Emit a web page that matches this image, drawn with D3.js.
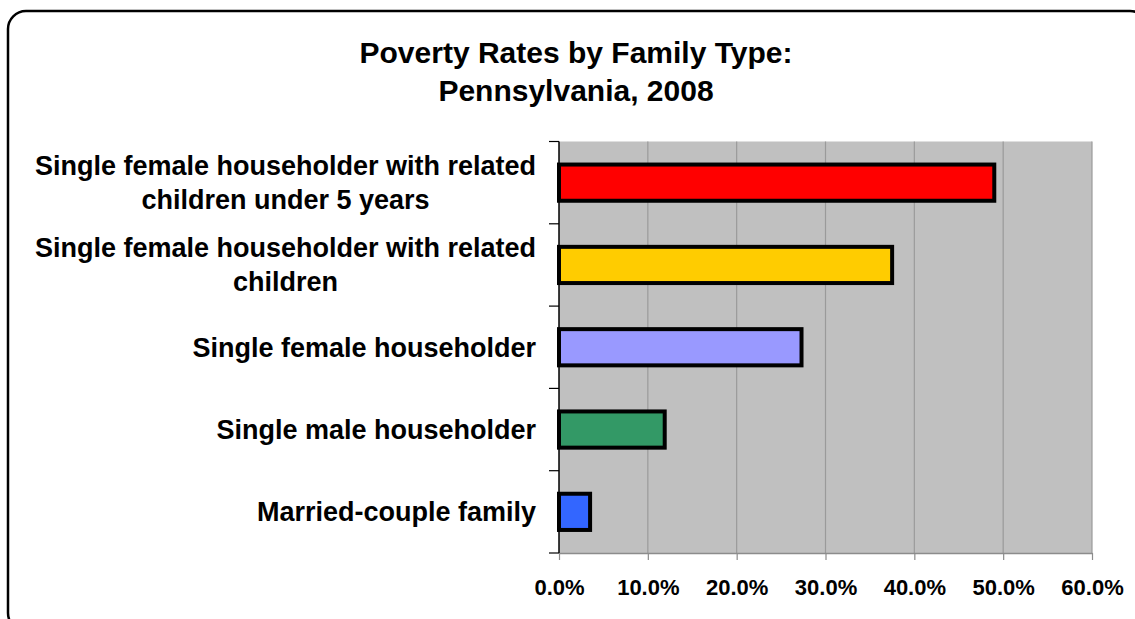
<!DOCTYPE html>
<html>
<head>
<meta charset="utf-8">
<script src="https://cdn.jsdelivr.net/npm/d3@7"></script>
<style>
  html, body { margin: 0; padding: 0; background: #fff; }
  svg { display: block; font-family: "Liberation Sans", Arial, sans-serif; }
</style>
</head>
<body>
<svg id="chart" width="1135" height="619"></svg>
<script>
// Family types, top to bottom, with their wrapped label lines
const categories = [
  "Single female householder with related children under 5 years",
  "Single female householder with related children",
  "Single female householder",
  "Single male householder",
  "Married-couple family"
];
const labelLines = [
  ["Single female householder with related", "children under 5 years"],
  ["Single female householder with related", "children"],
  ["Single female householder"],
  ["Single male householder"],
  ["Married-couple family"]
];
// Poverty rate (%)
const rates = [49.0, 37.5, 27.3, 11.9, 3.5];
const barColors = ["#FF0000", "#FFCC00", "#9999FF", "#339966", "#3366FF"];
const xTicks = [0, 10, 20, 30, 40, 50, 60];
const titleLines = ["Poverty Rates by Family Type:", "Pennsylvania, 2008"];

const svg = d3.select("#chart");

// Rounded outer frame
svg.append("rect")
  .attr("x", 8).attr("y", 11)
  .attr("width", 1140).attr("height", 620)
  .attr("rx", 18).attr("ry", 18)
  .attr("fill", "#fff")
  .attr("stroke", "#000")
  .attr("stroke-width", 2.5);

// Title
svg.append("text")
  .attr("text-anchor", "middle")
  .attr("font-weight", "bold")
  .attr("font-size", 30)
  .selectAll("tspan")
  .data(titleLines)
  .join("tspan")
  .attr("x", 576)
  .attr("y", (d, i) => 63 + i * 38)
  .text(d => d);

const plot = { left: 559, right: 1092, top: 141.5, bottom: 553 };

const x = d3.scaleLinear()
  .domain([0, 60])
  .range([plot.left, plot.right]);

const y = d3.scaleBand()
  .domain(categories)
  .range([plot.top, plot.bottom])
  .paddingInner(0.56)
  .paddingOuter(0.28);

// Plot background
svg.append("rect")
  .attr("x", plot.left).attr("y", plot.top)
  .attr("width", plot.right - plot.left)
  .attr("height", plot.bottom - plot.top)
  .attr("fill", "#C0C0C0");

// Vertical gridlines
svg.append("g")
  .selectAll("line")
  .data(xTicks.slice(1))
  .join("line")
  .attr("x1", d => x(d)).attr("x2", d => x(d))
  .attr("y1", plot.top).attr("y2", plot.bottom)
  .attr("stroke", "#9a9a9a")
  .attr("stroke-width", 1.2);

// Bars
svg.append("g")
  .selectAll("rect")
  .data(rates)
  .join("rect")
  .attr("x", x(0))
  .attr("y", (d, i) => y(categories[i]))
  .attr("width", d => x(d) - x(0))
  .attr("height", y.bandwidth())
  .attr("fill", (d, i) => barColors[i])
  .attr("stroke", "#000")
  .attr("stroke-width", 4);

// Bottom axis
const xAxis = d3.axisBottom(x)
  .tickValues(xTicks)
  .tickFormat(d => d.toFixed(1) + "%")
  .tickSizeInner(7)
  .tickSizeOuter(0)
  .tickPadding(19);

const gx = svg.append("g")
  .attr("transform", `translate(0,${plot.bottom})`)
  .call(xAxis);
gx.select(".domain").attr("stroke", "#8c8c8c").attr("stroke-width", 1.5);
gx.selectAll(".tick line").attr("stroke", "#8c8c8c").attr("stroke-width", 1.2);
gx.selectAll(".tick text")
  .attr("font-family", "Liberation Sans, Arial, sans-serif")
  .attr("font-weight", "bold")
  .attr("font-size", 22)
  .attr("fill", "#000");

// Left axis: boundary ticks between categories
const boundaries = d3.range(categories.length + 1)
  .map(i => plot.top + i * y.step());
svg.append("g")
  .selectAll("line")
  .data(boundaries)
  .join("line")
  .attr("x1", plot.left - 10).attr("x2", plot.left)
  .attr("y1", d => d).attr("y2", d => d)
  .attr("stroke", "#000")
  .attr("stroke-width", 1.2);
svg.append("line")
  .attr("x1", plot.left).attr("x2", plot.left)
  .attr("y1", plot.top).attr("y2", plot.bottom)
  .attr("stroke", "#000")
  .attr("stroke-width", 1.5);

// Category labels
const lineGap = 34;
svg.append("g")
  .selectAll("text")
  .data(labelLines)
  .join("text")
  .attr("text-anchor", "middle")
  .attr("font-weight", "bold")
  .attr("font-size", 27)
  .attr("fill", "#000")
  .each(function(lines, i) {
    const cy = y(categories[i]) + y.bandwidth() / 2;
    const t = d3.select(this);
    const first = cy - (lines.length - 1) * lineGap / 2;
    t.selectAll("tspan")
      .data(lines)
      .join("tspan")
      .attr("y", (d, j) => first + j * lineGap)
      .attr("dy", "0.35em")
      .text(d => d);
    // right-align the block with lines centred on each other
    const widths = [];
    t.selectAll("tspan").each(function() { widths.push(this.getComputedTextLength()); });
    const maxW = d3.max(widths);
    t.selectAll("tspan").attr("x", 536 - maxW / 2);
  });
</script>
</body>
</html>
